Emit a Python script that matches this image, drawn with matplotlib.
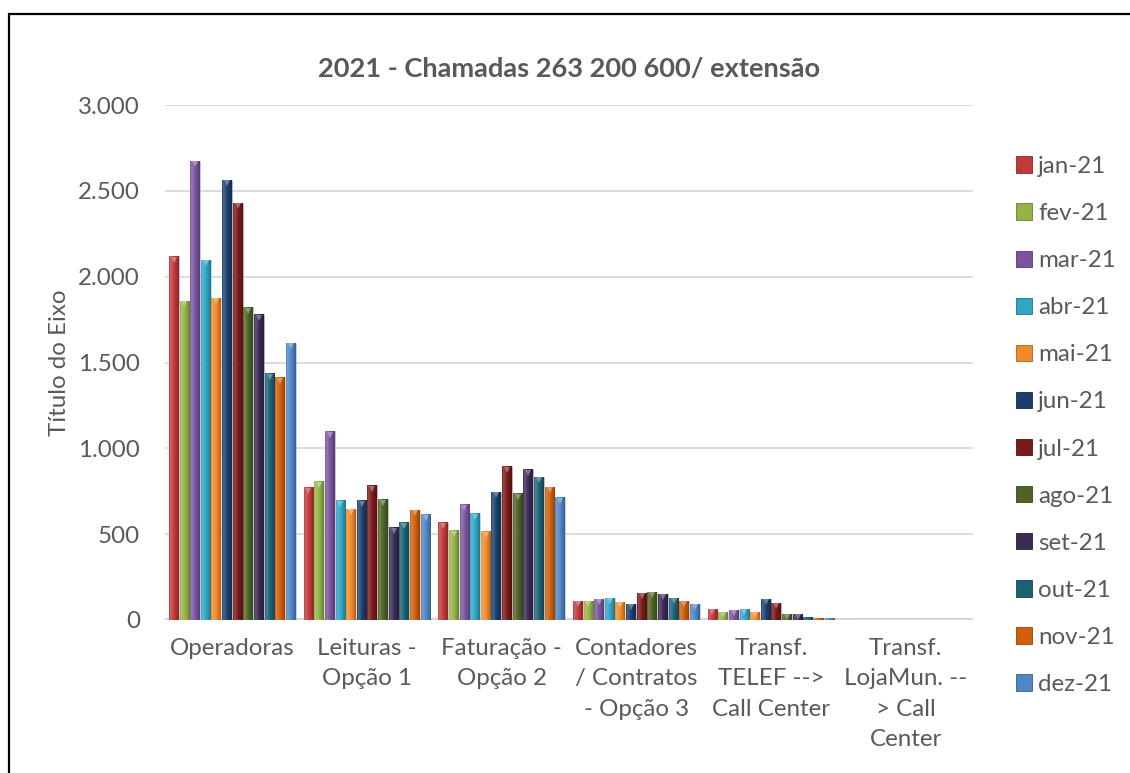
import numpy as np
import matplotlib
matplotlib.use("Agg")
import matplotlib.pyplot as plt
from matplotlib.colors import to_rgb
from matplotlib.patches import Patch, Rectangle
from matplotlib.ticker import FuncFormatter
from matplotlib.transforms import offset_copy

plt.rcParams['font.family'] = ['Lato', 'DejaVu Sans']

categorias = [
    "Operadoras",
    "Leituras -\nOpção 1",
    "Faturação -\nOpção 2",
    "Contadores\n/ Contratos\n- Opção 3",
    "Transf.\nTELEF -->\nCall Center",
    "Transf.\nLojaMun. --\n> Call\nCenter",
]
meses = ["jan-21", "fev-21", "mar-21", "abr-21", "mai-21", "jun-21",
         "jul-21", "ago-21", "set-21", "out-21", "nov-21", "dez-21"]

# valores por mes: [Operadoras, Leituras, Faturacao, Contadores, TELEF, LojaMun]
jan = [2120, 772, 570, 113, 66, 0]
fev = [1860, 807, 523, 113, 49, 0]
mar = [2675, 1099, 675, 125, 60, 0]
abr = [2100, 698, 623, 130, 66, 0]
mai = [1878, 648, 517, 107, 49, 0]
jun = [2564, 698, 747, 95, 125, 0]
jul = [2430, 784, 895, 160, 101, 0]
ago = [1822, 704, 739, 165, 37, 0]
set_ = [1782, 541, 877, 154, 37, 0]
out = [1436, 570, 835, 130, 19, 0]
nov = [1414, 642, 776, 113, 10, 0]
dez = [1616, 617, 714, 95, 14, 0]
valores = [jan, fev, mar, abr, mai, jun, jul, ago, set_, out, nov, dez]

cores = ["#C0393B", "#93B446", "#7A559F", "#2EA6C4", "#F28A2A", "#1B3F6C",
         "#7A1A1A", "#4E6426", "#3B2A55", "#1C6275", "#D0600C", "#4F86C6"]

COR_TEXTO = "#595959"
TAM_FONTE = 17.4


def sombrear(cor, f):
    c = np.array(to_rgb(cor))
    if f >= 0:
        return c + (1 - c) * f
    return c * (1 + f)


def barra_gradiente(ax, barra, cor):
    x0 = barra.get_x()
    w = barra.get_width()
    h = barra.get_height()
    if h <= 0:
        return
    t = np.linspace(0, 1, 32)
    fatores = np.interp(t, [0, 0.12, 0.45, 0.8, 1], [0.0, 0.22, 0.05, -0.15, -0.3])
    grad = np.array([[sombrear(cor, f) for f in fatores]])
    img = ax.imshow(grad, extent=[x0, x0 + w, 0, h], aspect='auto',
                    interpolation='bilinear', zorder=3)
    img.set_clip_path(barra)


def plotar_grafico(fig):
    ax = fig.add_axes([165/1130, 1 - 620/773, 808/1130, 515/773])
    x = np.arange(len(categorias))
    largura = 0.079
    trans_bisel = offset_copy(ax.transData, fig=fig, y=-3.5, units='dots')
    for i, (mes, vals) in enumerate(zip(meses, valores)):
        pos = x + (i - 5.5) * largura
        barras = ax.bar(pos, vals, largura * 0.92, color=cores[i], zorder=2,
                        edgecolor=(1, 1, 1, 0.35), linewidth=0.6, label=mes)
        for b in barras:
            barra_gradiente(ax, b, cores[i])
        # pequeno bisel claro no topo das barras
        vals_arr = np.array(vals)
        ok = vals_arr > 20
        ax.plot(pos[ok], vals_arr[ok], 'v', markersize=4.5, transform=trans_bisel,
                color=sombrear(cores[i], 0.35), markeredgewidth=0, zorder=4)

    ax.set_xlim(-0.5, 5.5)
    ax.set_ylim(0, 3000)
    ax.set_yticks(np.arange(0, 3001, 500))
    ax.yaxis.set_major_formatter(FuncFormatter(lambda v, p: f"{int(v):,}".replace(",", ".")))
    ax.grid(axis='y', color='#D9D9D9', linewidth=1.3, zorder=0)
    ax.axhline(0, color='#D4D4D4', linewidth=3, zorder=1)
    for s in ax.spines.values():
        s.set_visible(False)
    ax.set_xticks(x)
    ax.set_xticklabels(categorias, linespacing=1.55, va='top')
    ax.tick_params(axis='both', length=0, labelsize=TAM_FONTE, colors=COR_TEXTO)
    ax.tick_params(axis='y', pad=18)
    ax.tick_params(axis='x', pad=13)
    ax.set_ylabel("Título do Eixo", fontsize=TAM_FONTE, color=COR_TEXTO)
    ax.yaxis.set_label_coords(-0.117, 0.5)
    ax.set_title("2021 - Chamadas 263 200 600/ extensão", fontsize=19.6,
                 fontweight='bold', color=COR_TEXTO, pad=20)

    handles = [Patch(facecolor=c, edgecolor=sombrear(c, -0.3), linewidth=0.6) for c in cores]
    fig.legend(handles, meses, loc='upper left', bbox_to_anchor=(1016/1130, 1 - 156/773),
               frameon=False, fontsize=TAM_FONTE, labelcolor=COR_TEXTO, handlelength=0.66,
               handleheight=0.66, handletextpad=0.25, labelspacing=1.08,
               borderpad=0, borderaxespad=0)

    borda = Rectangle((9/1130, -0.1), 1.2, 1.1 - 14/773, transform=fig.transFigure,
                      fill=False, edgecolor='black', linewidth=1.6)
    fig.patches.append(borda)


def main():
    fig = plt.figure(figsize=(11.3, 7.73), dpi=100)
    plotar_grafico(fig)
    fig.savefig("out.png", dpi=100)


if __name__ == "__main__":
    main()
